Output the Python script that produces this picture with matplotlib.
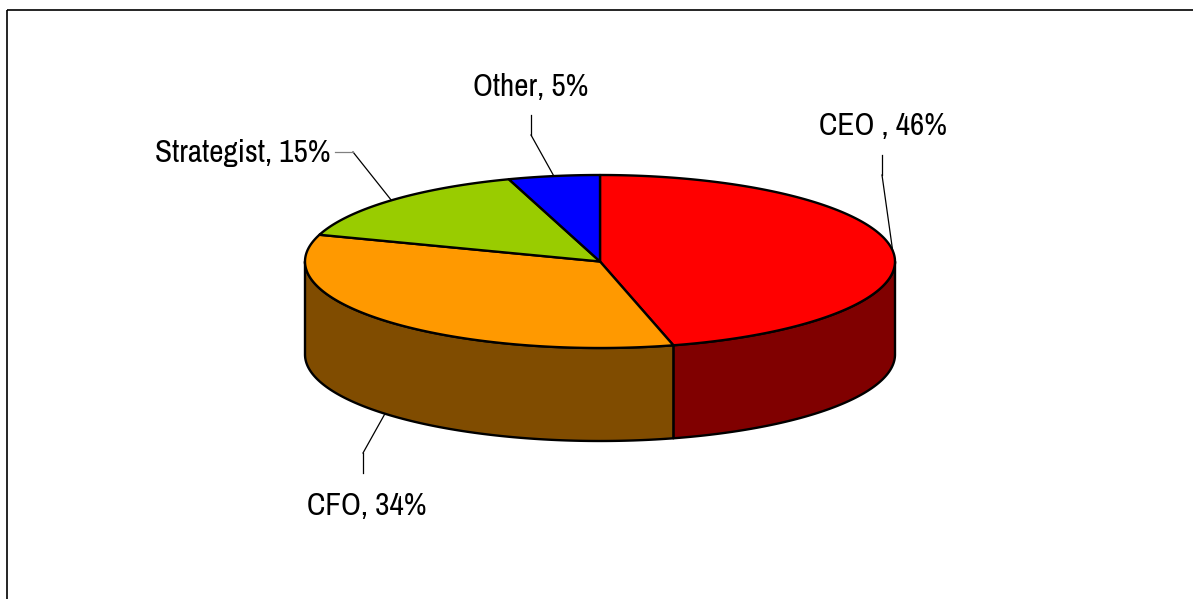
import numpy as np
import matplotlib.pyplot as plt
from matplotlib.patches import Polygon, Rectangle

labels = ["CEO ", "CFO", "Strategist", "Other"]
shares = [46, 34, 15, 5]
top_colors = ["#FF0000", "#FF9900", "#99CC00", "#0000FF"]
side_colors = ["#800000", "#804C00", "#4C6600", "#000080"]

# pie geometry, in pixels
cx, cy = 600, 261.5
rx, ry = 295, 86.5
depth = 93


def rim(theta, drop=0.0):
    # theta in degrees, clockwise from 12 o'clock
    t = np.radians(theta)
    return np.column_stack([cx + rx * np.sin(t), cy - ry * np.cos(t) + drop])


fig = plt.figure(figsize=(11.93, 5.99), dpi=100)
ax = fig.add_axes([0, 0, 1, 1])
ax.set_xlim(0, 1193)
ax.set_ylim(599, 0)
ax.axis("off")

ax.add_patch(Rectangle((7, 10), 1300, 700, fill=False, edgecolor="black", linewidth=1.2))

fracs = np.array(shares) / sum(shares)
bounds = np.concatenate([[0], np.cumsum(fracs)]) * 360

# side walls (only the front half, 90..270 degrees, is visible)
for i in range(len(shares)):
    a0, a1 = max(bounds[i], 90), min(bounds[i + 1], 270)
    if a1 <= a0:
        continue
    th = np.linspace(a0, a1, 120)
    pts = np.vstack([rim(th), rim(th[::-1], depth)])
    ax.add_patch(Polygon(pts, closed=True, facecolor=side_colors[i],
                         edgecolor="black", linewidth=1.7, joinstyle="round"))

# top faces
for i in range(len(shares)):
    th = np.linspace(bounds[i], bounds[i + 1], 200)
    pts = np.vstack([[cx, cy], rim(th)])
    ax.add_patch(Polygon(pts, closed=True, facecolor=top_colors[i],
                         edgecolor="black", linewidth=1.7, joinstyle="round"))

# labels with leader lines
font = ["Archivo Narrow", "Roboto Condensed", "DejaVu Sans"]
mids = (bounds[:-1] + bounds[1:]) / 2
label_pos = [(819, 135), (307, 515), (155, 162), (473, 96)]
elbows = [[(882, 175), (882, 155)],
          [(363, 453), (363, 473)],
          [(353, 152), (335, 152)],
          [(531, 135), (531, 115)]]

for i in range(len(shares)):
    drop = depth if 90 < mids[i] < 270 else 0
    anchor = rim(np.array([mids[i]]), drop)[0]
    path = np.vstack([anchor, elbows[i]])
    ax.plot(path[:2, 0], path[:2, 1], color="black", linewidth=0.9)
    ax.plot(path[1:, 0], path[1:, 1], color="black" if i != 2 else "#808080",
            linewidth=0.9)
    x, y = label_pos[i]
    ax.text(x, y, f"{labels[i]}, {shares[i]}%", ha="left", va="baseline",
            fontsize=22.5, family=font, color="black")

fig.savefig("out.png", dpi=100)
